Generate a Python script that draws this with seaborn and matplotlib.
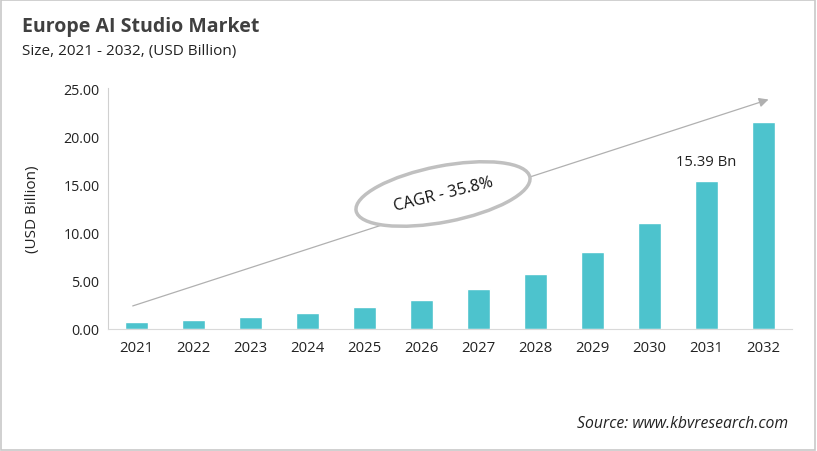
import pandas as pd
import numpy as np
import matplotlib.pyplot as plt
import seaborn as sns
from matplotlib.patches import Ellipse, Rectangle

# Chart data
years = ["2021", "2022", "2023", "2024", "2025", "2026",
         "2027", "2028", "2029", "2030", "2031", "2032"]
market_size = [0.76, 0.97, 1.28, 1.66, 2.28, 3.04,
               4.15, 5.74, 7.99, 11.00, 15.39, 21.50]
y_ticks = [0, 5, 10, 15, 20, 25]
highlight_year = "2031"
highlight_label = "15.39 Bn"
cagr_label = "CAGR - 35.8%"

df = pd.DataFrame({"year": years, "size": market_size})

sns.set_style("white")
plt.rcParams["font.family"] = ["Open Sans", "DejaVu Sans"]

fig = plt.figure(figsize=(8.17, 4.52), dpi=100)
ax = fig.add_axes([0.132, 0.270, 0.837, 0.533])

sns.barplot(data=df, x="year", y="size", color="#4DC3CD", width=0.4,
            saturation=1, ax=ax)

ax.set_xlim(-0.5, len(years) - 0.5)
ax.set_ylim(0, 25)
ax.set_yticks(y_ticks)
ax.set_yticklabels([f"{t:.2f}" for t in y_ticks], fontsize=10.3, color="#222222")
ax.tick_params(axis="x", labelsize=10.7, colors="#222222", length=0, pad=8)
ax.tick_params(axis="y", length=0, pad=6)
ax.set_xlabel("")
ax.set_ylabel("(USD Billion)", fontsize=11, color="#222222", labelpad=17)

for side in ["top", "right"]:
    ax.spines[side].set_visible(False)
ax.spines["left"].set_color("#d0d0d0")
ax.spines["bottom"].set_color("#d9d9d9")

# value label above the 2031 bar
i = years.index(highlight_year)
ax.text(i, market_size[i] + 1.2, highlight_label, ha="center", va="bottom",
        fontsize=10.7, color="#222222")

# CAGR trend arrow
ax.annotate("", xy=(11.14, 23.9), xytext=(-0.11, 2.3),
            arrowprops=dict(arrowstyle="-|>", color="#b0b0b0", lw=0.9,
                            mutation_scale=14), annotation_clip=False)

# ellipse with CAGR text (drawn in inch coordinates so it stays round)
ell = Ellipse((4.43, 2.57), 1.77, 0.56, angle=11, transform=fig.dpi_scale_trans,
              facecolor="white", edgecolor="#c0c0c0", lw=2.5, zorder=5)
fig.patches.append(ell)
fig.text(4.43 / 8.17, 2.57 / 4.52, cagr_label, rotation=14, ha="center",
         va="center", fontsize=11.7, color="#111111", zorder=6)

# titles
fig.text(0.027, 0.94, "Europe AI Studio Market", fontsize=14, fontweight="bold",
         color="#404040", va="center")
fig.text(0.027, 0.885, "Size, 2021 - 2032, (USD Billion)", fontsize=11,
         color="#222222", va="center")
fig.text(0.965, 0.062, "Source: www.kbvresearch.com", fontsize=11.3,
         style="italic", color="#222222", ha="right", va="center")

# light frame around the image
fig.patches.append(Rectangle((0.001, 0.002), 0.997, 0.996, transform=fig.transFigure,
                             fill=False, edgecolor="#c8c8c8", lw=1.2))

fig.savefig("out.png", dpi=100)
